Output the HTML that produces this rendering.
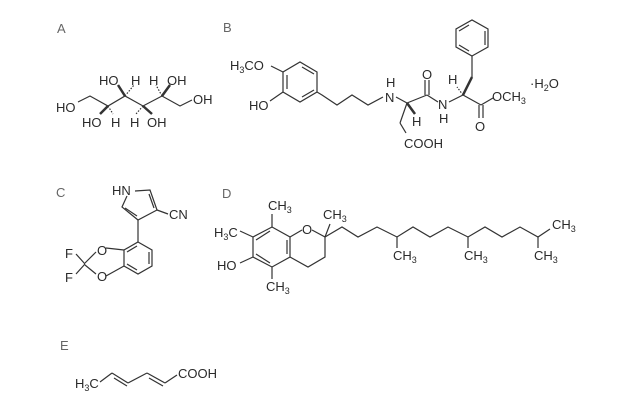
<!DOCTYPE html>
<html><head><meta charset="utf-8"><style>
html,body{margin:0;padding:0;background:#fff;}
svg{display:block;}
text{font-family:"Liberation Sans",sans-serif;font-size:13px;fill:#2a2a2a;}
.lbl{font-size:13px;fill:#666;}
.s{font-size:9px;}
</style></head><body>
<svg width="642" height="409" viewBox="0 0 642 409" xmlns="http://www.w3.org/2000/svg">
<g stroke="#333" stroke-width="1.2" fill="none">
<!-- A -->
<polyline points="78,102 90,96 108,106 125,96 143,106 162,96 180,106 192,100"/>
<line x1="108" y1="106" x2="100" y2="114" stroke-width="2.5"/>
<line x1="108" y1="106" x2="113" y2="114" stroke-dasharray="1.5,1.5"/>
<line x1="125" y1="96" x2="118" y2="85" stroke-width="2.5"/>
<line x1="125" y1="96" x2="134" y2="85" stroke-dasharray="1.5,1.5"/>
<line x1="143" y1="106" x2="136" y2="114" stroke-dasharray="1.5,1.5"/>
<line x1="143" y1="106" x2="152" y2="114" stroke-width="2.5"/>
<line x1="162" y1="96" x2="156" y2="85" stroke-dasharray="1.5,1.5"/>
<line x1="162" y1="96" x2="170" y2="85" stroke-width="2.5"/>
<!-- B ring1 -->
<polygon points="317,72 300,62 283,72 283,92 300,102 317,92"/>
<line x1="302" y1="67" x2="314" y2="74"/><line x1="287" y1="75" x2="287" y2="89"/><line x1="302" y1="97" x2="314" y2="90"/>
<line x1="283" y1="72" x2="271" y2="66"/>
<line x1="283" y1="92" x2="270" y2="101"/>
<polyline points="317,92 322,95 337,105 352,95 368,105 383,97"/>
<line x1="396" y1="97" x2="407" y2="103"/>
<line x1="407" y1="103" x2="427" y2="95"/>
<line x1="407" y1="103" x2="415" y2="114" stroke-width="2.5"/>
<line x1="425" y1="95" x2="425" y2="80"/><line x1="429" y1="95" x2="429" y2="80"/>
<line x1="427" y1="95" x2="438" y2="102"/>
<line x1="449" y1="102" x2="463" y2="95"/>
<line x1="463" y1="95" x2="457" y2="87" stroke-dasharray="1.5,1.5"/>
<line x1="463" y1="95" x2="472" y2="77" stroke-width="2.5"/>
<line x1="472" y1="77" x2="472" y2="56"/>
<polygon points="472,56 488,47 488,29 472,20 456,29 456,47"/>
<line x1="485" y1="31" x2="485" y2="45"/><line x1="459" y1="31" x2="469" y2="25"/><line x1="459" y1="45" x2="469" y2="51"/>
<line x1="463" y1="95" x2="481" y2="105"/>
<line x1="479" y1="105" x2="479" y2="118"/><line x1="483" y1="105" x2="483" y2="118"/>
<line x1="481" y1="105" x2="493" y2="98"/>
<line x1="407" y1="103" x2="400" y2="123"/>
<line x1="400" y1="123" x2="406" y2="133"/>
<!-- C -->
<polyline points="135,191 150,190 157,210 138,220 122,207 127,196"/>
<line x1="149" y1="194" x2="154" y2="208"/><line x1="125" y1="208" x2="137" y2="216"/>
<line x1="157" y1="210" x2="168" y2="214"/>
<line x1="138" y1="220" x2="138" y2="242"/>
<polygon points="138,242 152,250 152,266 138,274 124,266 124,250"/>
<line x1="149" y1="252" x2="149" y2="264"/><line x1="127" y1="252" x2="137" y2="246"/><line x1="127" y1="264" x2="137" y2="270"/>
<line x1="124" y1="250" x2="106" y2="248"/><line x1="124" y1="266" x2="106" y2="276"/>
<line x1="96" y1="252" x2="85" y2="263"/><line x1="96" y1="274" x2="85" y2="265"/>
<line x1="85" y1="264" x2="76" y2="254"/><line x1="85" y1="264" x2="76" y2="274"/>
<!-- D -->
<polygon points="272,227 290,237 290,257 272,267 253,257 253,237"/>
<line x1="287" y1="240" x2="287" y2="254"/><line x1="256" y1="240" x2="270" y2="231"/><line x1="256" y1="254" x2="270" y2="263"/>
<line x1="272" y1="227" x2="272" y2="214"/><line x1="253" y1="237" x2="240" y2="231"/>
<line x1="253" y1="257" x2="240" y2="263"/><line x1="272" y1="267" x2="272" y2="279"/>
<polyline points="290,237 302,230"/><polyline points="312,230 325,237 325,257 308,267 290,257"/>
<polyline points="325,237 342,227 358,237 377,227 397,237 413,227 430,237 448,227 468,237 485,227 502,237 520,227 538,237 550,229"/>
<line x1="325" y1="237" x2="330" y2="224"/>
<line x1="397" y1="237" x2="397" y2="248"/><line x1="468" y1="237" x2="468" y2="248"/><line x1="538" y1="237" x2="538" y2="248"/>
<!-- E -->
<line x1="100" y1="382" x2="112" y2="373"/>
<line x1="112" y1="373" x2="128" y2="383"/><line x1="114" y1="378" x2="127" y2="386"/>
<line x1="128" y1="383" x2="147" y2="373"/>
<line x1="147" y1="373" x2="165" y2="383"/><line x1="149" y1="378" x2="163" y2="386"/>
<line x1="165" y1="383" x2="177" y2="375"/>
</g>
<text class="lbl" x="57" y="33">A</text>
<text x="56" y="112">HO</text><text x="193" y="104">OH</text>
<text x="82" y="127">HO</text><text x="111" y="127">H</text><text x="130" y="127">H</text><text x="147" y="127">OH</text>
<text x="99" y="85">HO</text><text x="131" y="85">H</text><text x="149" y="85">H</text><text x="167" y="85">OH</text>
<text class="lbl" x="223" y="32">B</text>
<text x="230" y="70">H<tspan class="s" dy="3">3</tspan><tspan dy="-3">CO</tspan></text>
<text x="249" y="110">HO</text>
<text x="385" y="102">N</text><text x="386" y="87">H</text>
<text x="422" y="79">O</text>
<text x="438" y="109">N</text><text x="439" y="123">H</text>
<text x="448" y="84">H</text><text x="412" y="126">H</text>
<text x="475" y="131">O</text>
<text x="492" y="101">OCH<tspan class="s" dy="3">3</tspan></text>
<text x="530" y="88">·H<tspan class="s" dy="3">2</tspan><tspan dy="-3">O</tspan></text>
<text x="404" y="148">COOH</text>
<text class="lbl" x="56" y="197">C</text>
<text x="112" y="195">HN</text>
<text x="169" y="219">CN</text>
<text x="97" y="255">O</text><text x="97" y="281">O</text>
<text x="65" y="258">F</text><text x="65" y="282">F</text>
<text class="lbl" x="222" y="198">D</text>
<text x="268" y="210">CH<tspan class="s" dy="3">3</tspan></text>
<text x="214" y="237">H<tspan class="s" dy="3">3</tspan><tspan dy="-3">C</tspan></text>
<text x="217" y="270">HO</text>
<text x="266" y="291">CH<tspan class="s" dy="3">3</tspan></text>
<text x="302" y="234">O</text>
<text x="323" y="219">CH<tspan class="s" dy="3">3</tspan></text>
<text x="393" y="260">CH<tspan class="s" dy="3">3</tspan></text>
<text x="464" y="260">CH<tspan class="s" dy="3">3</tspan></text>
<text x="534" y="260">CH<tspan class="s" dy="3">3</tspan></text>
<text x="552" y="229">CH<tspan class="s" dy="3">3</tspan></text>
<text class="lbl" x="60" y="350">E</text>
<text x="75" y="388">H<tspan class="s" dy="3">3</tspan><tspan dy="-3">C</tspan></text>
<text x="178" y="378">COOH</text>
</svg>
</body></html>
